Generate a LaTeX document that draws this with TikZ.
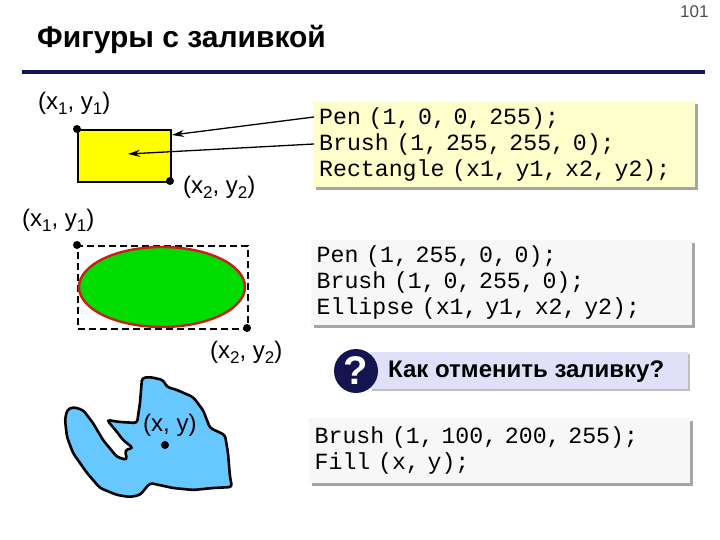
\documentclass[tikz,border=0pt]{standalone}
\usepackage{fontspec}
\setmainfont{Liberation Sans}
\setmonofont{Liberation Mono}
\usetikzlibrary{shadows,arrows.meta}
\newcommand{\sbs}[1]{\raisebox{-5pt}{\fontsize{17}{17}\selectfont #1}}
\tikzset{
  lbl/.style={anchor=west,inner sep=0pt,font=\fontsize{24}{24}\selectfont},
  dotp/.style={circle,fill=black,inner sep=0pt,minimum size=8pt},
  code/.style={draw=none,anchor=north west,inner sep=0pt,font=\ttfamily\fontsize{23.2}{26}\selectfont,align=left,
    drop shadow={shadow xshift=3pt,shadow yshift=-3pt,fill=gray!70,opacity=1}},
  arr/.style={-{Stealth[length=12pt,width=7pt]},line width=1.3pt}
}
\begin{document}
\begin{tikzpicture}[x=1pt,y=-1pt]
\useasboundingbox (0,0) rectangle (720,540);
\node[anchor=east,font=\fontsize{17}{17}\selectfont,text=black!70] (pg) at (712,12) {101};
\node[anchor=base west,inner sep=0pt,font=\bfseries\fontsize{30}{30}\selectfont] (title) at (37,48) {Фигуры с заливкой};
\draw[line width=4pt,color={rgb,255:red,20;green,20;blue,90}] (22,72) -- (705,72);

% rectangle
\node[draw,line width=1.6pt,fill={rgb,255:red,255;green,255;blue,0},minimum width=93pt,minimum height=52pt,anchor=north west,inner sep=0pt] (rect) at (77,129) {};
\node[dotp] (d1) at (77,129) {};
\node[dotp] (d2) at (170,181) {};
\node[lbl] (l1) at (38,103) {(x\sbs{1}, y\sbs{1})};
\node[lbl] (l2) at (183,187) {(x\sbs{2}, y\sbs{2})};

\node[code,fill={rgb,255:red,255;green,255;blue,204},minimum width=382pt,minimum height=86pt,text width=378pt] (c1) at (313,101) {\hspace*{4pt}Pen (1, 0, 0, 255);\\\hspace*{4pt}Brush (1, 255, 255, 0);\\\hspace*{4pt}Rectangle (x1, y1, x2, y2);};
\coordinate (a1s) at (314,117);
\coordinate (a2s) at (314,144);
\coordinate (t1) at (172,135);
\coordinate (t2) at (128,154);
\draw[arr] (a1s) -- (t1);
\draw[arr] (a2s) -- (t2);

% ellipse
\node[lbl] (l3) at (22,220) {(x\sbs{1}, y\sbs{1})};
\node[draw,dash pattern=on 7pt off 4pt,line width=1.6pt,minimum width=170pt,minimum height=83pt,anchor=north west,inner sep=0pt] (dbox) at (77,245) {};
\draw[line width=2.4pt,color={rgb,255:red,200;green,30;blue,30},fill={rgb,255:red,0;green,220;blue,0}] (162,287) ellipse [x radius=83,y radius=40];
\node[dotp] (d3) at (77,245) {};
\node[dotp] (d4) at (247,328) {};
\node[lbl] (l4) at (210,352) {(x\sbs{2}, y\sbs{2})};

\node[code,fill=gray!6,minimum width=381pt,minimum height=85pt,text width=378pt] (c2) at (311,240) {\hspace*{4pt}Pen (1, 255, 0, 0);\\\hspace*{4pt}Brush (1, 0, 255, 0);\\\hspace*{4pt}Ellipse (x1, y1, x2, y2);};

% question
\node[anchor=north west,fill={rgb,255:red,224;green,224;blue,248},minimum width=318pt,minimum height=37pt,inner sep=0pt,
  drop shadow={shadow xshift=2pt,shadow yshift=-2pt,fill=gray!50,opacity=1}] (qbox) at (370,352) {};
\node[circle,fill={rgb,255:red,20;green,20;blue,80},minimum size=44pt,inner sep=0pt,text=white,font=\bfseries\fontsize{40}{40}\selectfont] (qm) at (356,371) {?};
\node[lbl,font=\bfseries\fontsize{24}{24}\selectfont] (qt) at (388,372) {Как отменить заливку?};

% blob
\draw[line width=2.6pt,rounded corners=3pt,fill={rgb,255:red,102;green,200;blue,255}]
 (67,410)--(73,407)--(83,410)--(93,423)--(103,440)--(117,457)--(127,460)--(125,450)--(133,448)--(123,440)--(117,432)--(107,420)--(120,422)--(137,423)--(140,403)--(142,378)--(150,377)--(163,380)--(167,387)--(177,390)--(193,397)--(203,410)--(210,428)--(225,435)--(228,453)--(230,477)--(232,487)--(213,488)--(193,490)--(173,488)--(150,483)--(140,495)--(130,497)--(117,495)--(100,488)--(87,473)--(73,453)--(67,437)--(65,420)--cycle;
\node[lbl] (l5) at (143,425) {(x, y)};
\node[dotp] (d5) at (165,445) {};

\node[code,fill=gray!6,minimum width=381pt,minimum height=65pt,text width=378pt] (c3) at (309,418) {\hspace*{4pt}Brush (1, 100, 200, 255);\\\hspace*{4pt}Fill (x, y);};
\end{tikzpicture}
\end{document}
